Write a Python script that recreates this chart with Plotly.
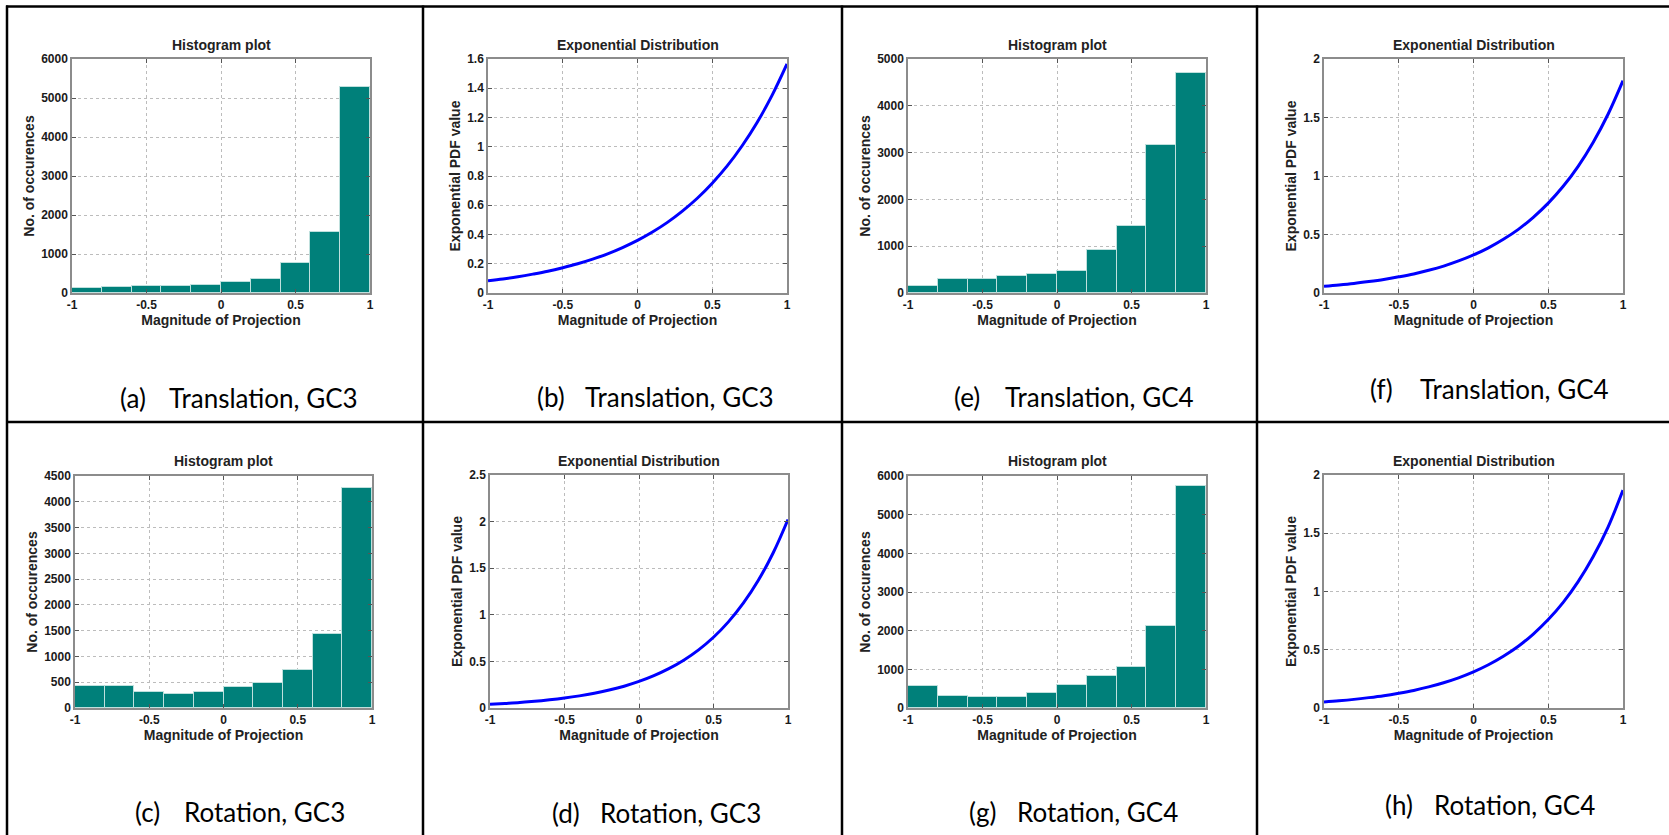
import plotly.graph_objects as go

W, H = 1669, 835

# ---------------- data ----------------
bin_centers = [-0.9, -0.7, -0.5, -0.3, -0.1, 0.1, 0.3, 0.5, 0.7, 0.9]
hist_a = [140, 155, 190, 190, 205, 283, 350, 763, 1577, 5270]     # Translation, GC3
hist_c = [420, 433, 310, 278, 310, 407, 484, 736, 1440, 4261]     # Rotation, GC3
hist_e = [143, 307, 307, 357, 407, 471, 914, 1436, 3157, 4707]    # Translation, GC4
hist_g = [559, 301, 275, 275, 387, 585, 817, 1050, 2117, 5749]    # Rotation, GC4

pdf_x = [-1.0, -0.9, -0.8, -0.7, -0.6, -0.5, -0.4, -0.3, -0.2, -0.1, 0.0,
         0.1, 0.2, 0.3, 0.4, 0.5, 0.6, 0.7, 0.8, 0.9, 1.0]
pdf_b = [0.083, 0.096, 0.111, 0.129, 0.149, 0.173, 0.200, 0.232, 0.268, 0.311, 0.360,
         0.417, 0.483, 0.560, 0.648, 0.751, 0.869, 1.007, 1.166, 1.351, 1.566]
pdf_d = [0.040, 0.049, 0.059, 0.072, 0.088, 0.107, 0.130, 0.158, 0.193, 0.234, 0.285,
         0.347, 0.422, 0.513, 0.624, 0.759, 0.924, 1.124, 1.367, 1.663, 2.023]
pdf_f = [0.058, 0.069, 0.082, 0.098, 0.116, 0.138, 0.163, 0.194, 0.230, 0.274, 0.325,
         0.386, 0.459, 0.544, 0.647, 0.768, 0.912, 1.083, 1.287, 1.528, 1.815]
pdf_h = [0.052, 0.062, 0.074, 0.089, 0.106, 0.127, 0.151, 0.181, 0.217, 0.259, 0.310,
         0.371, 0.444, 0.530, 0.635, 0.759, 0.907, 1.085, 1.298, 1.553, 1.870]

x_tickvals = [-1, -0.5, 0, 0.5, 1]
x_ticktext = ["-1", "-0.5", "0", "0.5", "1"]

hist_title = "Histogram plot"
pdf_title = "Exponential Distribution"
x_label = "Magnitude of Projection"
hist_ylabel = "No. of occurences"
pdf_ylabel = "Exponential PDF value"

captions = [("(a)", "Translation, GC3"), ("(b)", "Translation, GC3"),
            ("(e)", "Translation, GC4"), ("(f)", "Translation, GC4"),
            ("(c)", "Rotation, GC3"), ("(d)", "Rotation, GC3"),
            ("(g)", "Rotation, GC4"), ("(h)", "Rotation, GC4")]

# ---------------- panels (pixel boxes: left, right, top, bottom) ----------------
panels = [
    dict(kind="hist", y=hist_a, box=(72, 370, 59, 293), yr=[0, 6000], dt=1000, ty=45),
    dict(kind="pdf", y=pdf_b, box=(488, 787, 59, 293), yr=[0, 1.6], dt=0.2, ty=45),
    dict(kind="hist", y=hist_e, box=(908, 1206, 59, 293), yr=[0, 5000], dt=1000, ty=45),
    dict(kind="pdf", y=pdf_f, box=(1324, 1623, 59, 293), yr=[0, 2], dt=0.5, ty=45),
    dict(kind="hist", y=hist_c, box=(75, 372, 476, 708), yr=[0, 4500], dt=500, ty=461),
    dict(kind="pdf", y=pdf_d, box=(490, 788, 475, 708), yr=[0, 2.5], dt=0.5, ty=461),
    dict(kind="hist", y=hist_g, box=(908, 1206, 476, 708), yr=[0, 6000], dt=1000, ty=461),
    dict(kind="pdf", y=pdf_h, box=(1324, 1623, 475, 708), yr=[0, 2], dt=0.5, ty=461),
]
# caption positions: (label x, text x, center y)
cap_pos = [(118, 167, 398), (535, 583, 397), (952, 1003, 397), (1368, 1418, 389),
           (133, 182, 812), (550, 598, 813), (967, 1015, 812), (1383, 1432, 805)]

def px(x):
    return x / W

def py(y):
    return 1 - y / H

TEAL = "rgb(0,128,122)"
AX_FONT = dict(family="Liberation Sans, Arial", size=12, color="#1a1a1a", weight="bold")
LBL_FONT = dict(family="Liberation Sans, Arial", size=14, color="#222222", weight="bold")
CAP_FONT = dict(family="Lato, Carlito, sans-serif", size=26, color="#000000")

fig = go.Figure()
annotations = []
layout = {}

for i, p in enumerate(panels):
    n = i + 1
    xa = "x" if n == 1 else f"x{n}"
    ya = "y" if n == 1 else f"y{n}"
    l, r, t, b = p["box"]
    if p["kind"] == "hist":
        fig.add_trace(go.Bar(x=bin_centers, y=p["y"], width=0.2, xaxis=xa, yaxis=ya,
                             marker=dict(color=TEAL, line=dict(color="#bfe0dd", width=1)),
                             showlegend=False))
        title, ylab = hist_title, hist_ylabel
    else:
        fig.add_trace(go.Scatter(x=pdf_x, y=p["y"], mode="lines", xaxis=xa, yaxis=ya,
                                 line=dict(color="#0000ff", width=3, shape="spline"),
                                 showlegend=False))
        title, ylab = pdf_title, pdf_ylabel
    common = dict(showline=True, linecolor="#8c8c8c", linewidth=1.5, mirror="ticks",
                  ticks="inside", ticklen=4, tickcolor="#555555", tickwidth=1,
                  showgrid=True, gridcolor="#bcbcbc", griddash="dot", gridwidth=1,
                  zeroline=False, tickfont=AX_FONT, automargin=False)
    layout["xaxis" if n == 1 else f"xaxis{n}"] = dict(
        domain=[px(l), px(r)], anchor=ya, range=[-1, 1],
        tickvals=x_tickvals, ticktext=x_ticktext,
        title=dict(text=x_label, font=LBL_FONT, standoff=0), **common)
    layout["yaxis" if n == 1 else f"yaxis{n}"] = dict(
        domain=[py(b), py(t)], anchor=xa, range=p["yr"], dtick=p["dt"], tick0=0,
        title=dict(text=ylab, font=LBL_FONT, standoff=3), **common)
    annotations.append(dict(text=title, x=px((l + r) / 2), y=py(p["ty"]), xref="paper", yref="paper",
                            xanchor="center", yanchor="middle", showarrow=False, font=LBL_FONT))
    lab, txt = captions[i]
    lx, tx, cy = cap_pos[i]
    annotations.append(dict(text=lab, x=px(lx), y=py(cy), xref="paper", yref="paper",
                            xanchor="left", yanchor="middle", showarrow=False, font=CAP_FONT))
    annotations.append(dict(text=txt, x=px(tx), y=py(cy), xref="paper", yref="paper",
                            xanchor="left", yanchor="middle", showarrow=False, font=CAP_FONT))

# table border lines
shapes = []
def hline(y, x0, x1):
    shapes.append(dict(type="line", xref="paper", yref="paper", x0=px(x0), x1=px(x1),
                       y0=py(y), y1=py(y), line=dict(color="black", width=2.5)))
def vline(x, y0, y1):
    shapes.append(dict(type="line", xref="paper", yref="paper", x0=px(x), x1=px(x),
                       y0=py(y0), y1=py(y1), line=dict(color="black", width=2.5)))

hline(6.5, 6, W)
hline(422, 6, W)
for xv in [7, 423, 842, 1257]:
    vline(xv, 5.5, H)

fig.update_layout(width=W, height=H, margin=dict(l=0, r=0, t=0, b=0),
                  paper_bgcolor="white", plot_bgcolor="white",
                  annotations=annotations, shapes=shapes, bargap=0, **layout)

fig.write_html("out.html", config={"displayModeBar": False},
               post_script="document.body.style.margin='0';document.body.style.overflow='hidden';")
